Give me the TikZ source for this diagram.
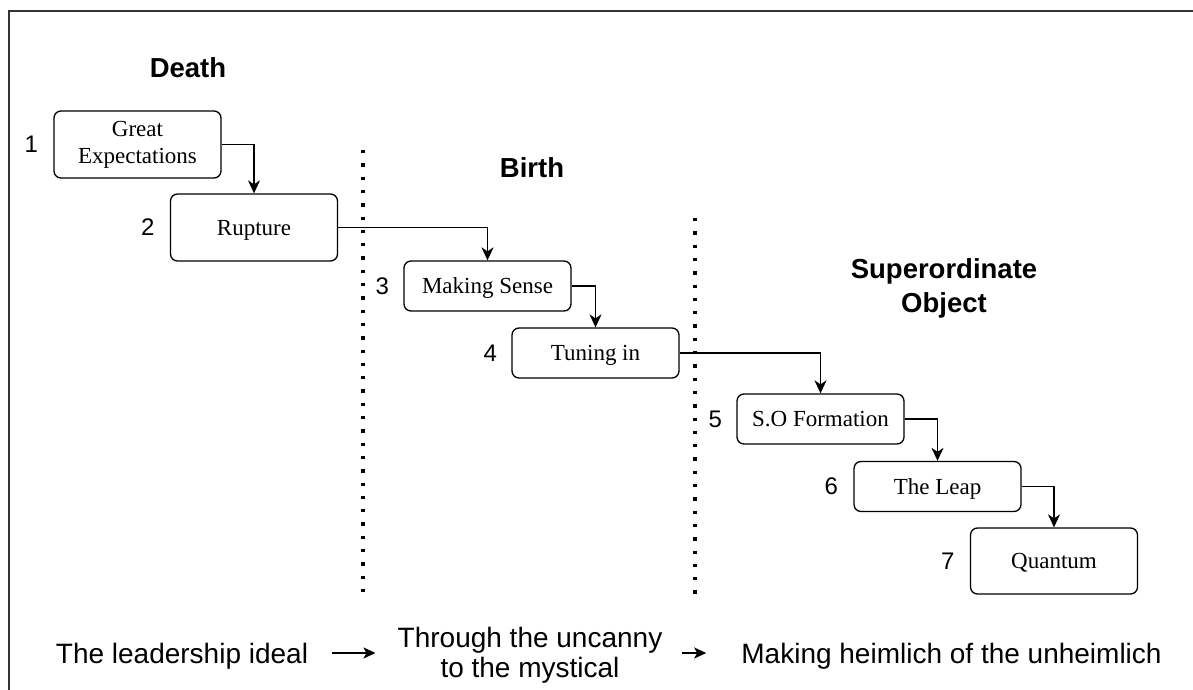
\documentclass[tikz,border=0pt]{standalone}
\usepackage{fontspec}
\setmainfont{Liberation Serif}
\newfontfamily\labelsans{Liberation Sans}
\usetikzlibrary{arrows.meta}
\tikzset{
  stepbox/.style={draw=black, line width=1.3pt, rounded corners=7pt, inner sep=0pt,
    minimum width=167pt, align=center, font=\fontsize{23}{27}\selectfont},
  onebox/.style={stepbox, text height=18pt, text depth=3pt},
  numlabel/.style={inner sep=0pt, font=\labelsans\fontsize{24}{28}\selectfont},
  heading/.style={inner sep=0pt, align=center, font=\labelsans\bfseries\fontsize{27.5}{34}\selectfont},
  bottomtext/.style={inner sep=0pt, align=center, font=\labelsans\fontsize{28}{30}\selectfont},
  flow/.style={line width=1.3pt, -{Stealth[length=13pt,width=12pt,inset=4pt]}},
  bigflow/.style={line width=2pt, -{Stealth[length=12pt,width=11pt,inset=3pt]}},
  divider/.style={line width=3.3pt, dash pattern=on 3.3pt off 10pt},
}
\begin{document}
\begin{tikzpicture}[x=1pt,y=-1pt]
\useasboundingbox (0,0) rectangle (1193,690);
\fill[white] (0,0) rectangle (1193,690);
% frame
\draw[line width=2pt, black!80] (9,691) -- (9,11) -- (1194,11);

% headings
\node[heading] (death) at (188,68) {Death};
\node[heading] (birth) at (532,168) {Birth};
\node[heading] (so) at (944,288) {Superordinate\\Object};

% dividers
\coordinate (d1t) at (363,150);
\coordinate (d1b) at (363,594);
\coordinate (d2t) at (695,218);
\coordinate (d2b) at (695,594);
\draw[divider] (d1t) -- (d1b);
\draw[divider] (d2t) -- (d2b);

% boxes
\node[stepbox, minimum height=67pt] (b1) at (137.5,144.5) {Great\\Expectations};
\node[onebox, minimum height=67pt] (b2) at (254,227.5) {Rupture};
\node[onebox, minimum height=50pt] (b3) at (487.5,286) {Making Sense};
\node[onebox, minimum height=50pt] (b4) at (595.5,353) {Tuning in};
\node[onebox, minimum height=50pt] (b5) at (820.5,419) {S.O Formation};
\node[onebox, minimum height=50pt] (b6) at (937.5,486.5) {The Leap};
\node[onebox, minimum height=66pt] (b7) at (1054,561) {Quantum};

% numbers
\node[numlabel] (n1) at ([xshift=-22pt]b1.west) {1};
\node[numlabel] (n2) at ([xshift=-22pt]b2.west) {2};
\node[numlabel] (n3) at ([xshift=-21pt]b3.west) {3};
\node[numlabel] (n4) at ([xshift=-21pt]b4.west) {4};
\node[numlabel] (n5) at ([xshift=-21pt]b5.west) {5};
\node[numlabel] (n6) at ([xshift=-22pt]b6.west) {6};
\node[numlabel] (n7) at ([xshift=-22pt]b7.west) {7};

% connectors
\draw[flow] (b1.east) -| (b2.north);
\draw[flow] (b2.east) -| (b3.north);
\draw[flow] (b3.east) -| (b4.north);
\draw[flow] (b4.east) -| (b5.north);
\draw[flow] (b5.east) -| (b6.north);
\draw[flow] (b6.east) -| (b7.north);

% bottom line
\node[bottomtext, anchor=base] (t1) at (182,663) {The leadership ideal};
\node[bottomtext, anchor=base] (t2) at (530,677) {Through the uncanny\\to the mystical};
\node[bottomtext, anchor=base] (t3) at (951.5,663) {Making heimlich of the unheimlich};
\coordinate (ay) at (0,653);
\draw[bigflow] ([xshift=24pt]t1.east |- ay) -- ([xshift=-22pt]t2.west |- ay);
\draw[bigflow] ([xshift=19pt]t2.east |- ay) -- ([xshift=-35pt]t3.west |- ay);
\end{tikzpicture}
\end{document}
